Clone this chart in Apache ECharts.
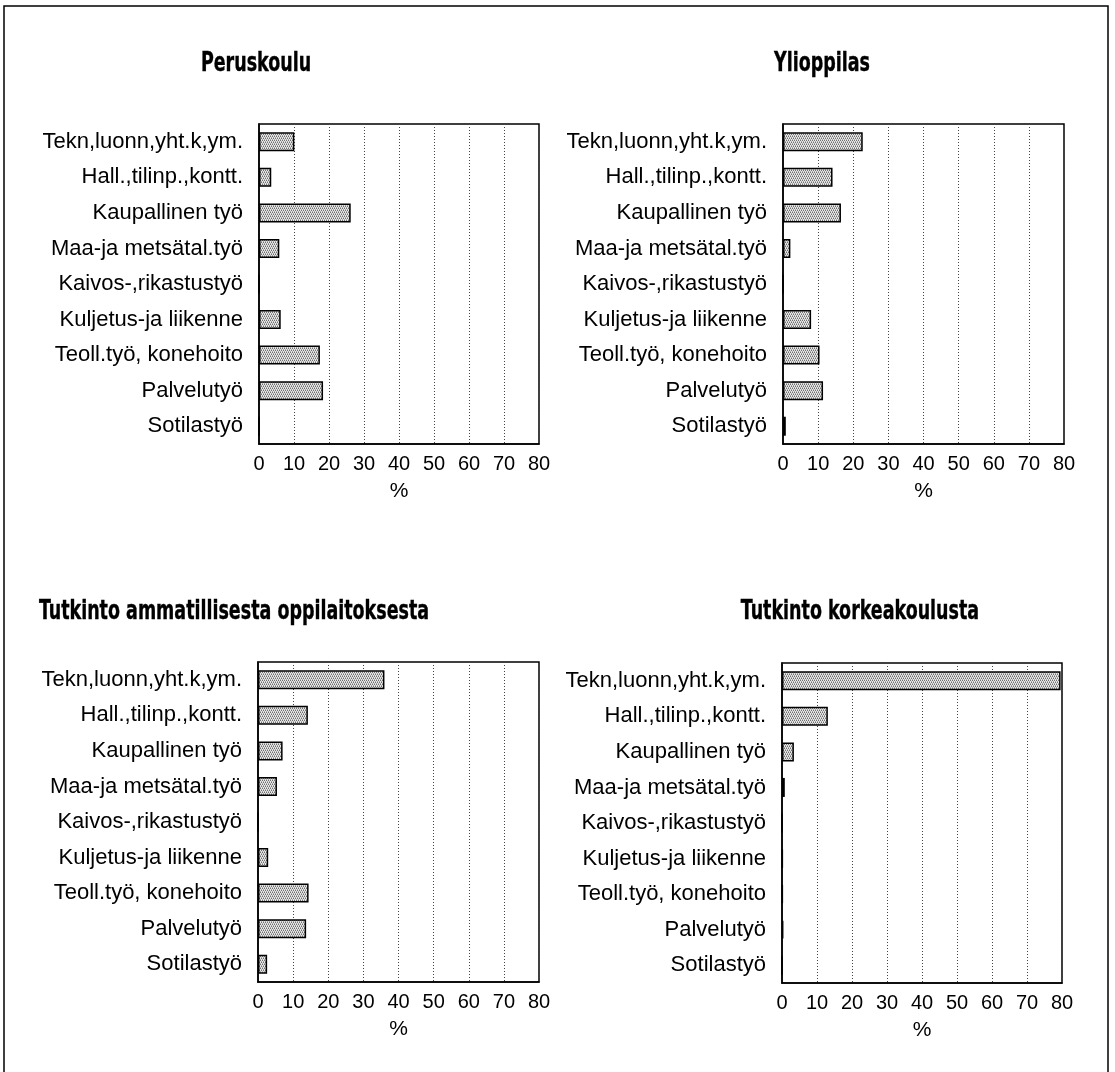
<!DOCTYPE html>
<html>
<head>
<meta charset="utf-8">
<script src="https://cdn.jsdelivr.net/npm/echarts@6/dist/echarts.min.js"></script>
<style>
html,body{margin:0;padding:0;background:#fff;}
#chart{width:1115px;height:1072px;}
</style>
</head>
<body>
<div id="chart"></div>
<script>
const categories = ['Tekn,luonn,yht.k,ym.','Hall.,tilinp.,kontt.','Kaupallinen työ','Maa-ja metsätal.työ','Kaivos-,rikastustyö','Kuljetus-ja liikenne','Teoll.työ, konehoito','Palvelutyö','Sotilastyö'];
const peruskoulu = [10.1, 3.5, 26.2, 5.8, 0, 6.2, 17.4, 18.3, 0];
const ylioppilas = [22.7, 14.1, 16.5, 2.1, 0, 8.0, 10.4, 11.4, 0.8];
const ammatillinen = [36.0, 14.2, 7.0, 5.4, 0, 2.9, 14.4, 13.7, 2.6];
const korkeakoulu = [79.6, 13.1, 3.4, 0.8, 0, 0.2, 0.2, 0.4, 0];
const panelTitles = ['Peruskoulu', 'Ylioppilas', 'Tutkinto ammatillisesta oppilaitoksesta', 'Tutkinto korkeakoulusta'];
const xMin = 0, xMax = 80, xStep = 10;
const axisName = '%';

const seriesData = [peruskoulu, ylioppilas, ammatillinen, korkeakoulu];
const grids = [
  {left: 259, top: 124, width: 280, height: 320},
  {left: 783, top: 124, width: 281, height: 320},
  {left: 258, top: 662, width: 281, height: 320},
  {left: 782, top: 663, width: 280, height: 320}
];
const titlePos = [[256, 64], [822, 64], [234, 612], [860, 612]];

// stipple pattern
const pc = document.createElement('canvas');
pc.width = 4; pc.height = 4;
const pctx = pc.getContext('2d');
pctx.fillStyle = '#e6e6e6'; pctx.fillRect(0,0,4,4);
pctx.fillStyle = '#707070';
pctx.fillRect(0,0,1,1); pctx.fillRect(2,0,1,1); pctx.fillRect(1,2,1,1); pctx.fillRect(3,2,1,1);
pctx.fillStyle = '#a8a8a8';
pctx.fillRect(1,1,1,1); pctx.fillRect(3,1,1,1); pctx.fillRect(0,3,1,1); pctx.fillRect(2,3,1,1);

const chart = echarts.init(document.getElementById('chart'), null, {renderer: 'canvas'});
const labelFont = "'Liberation Sans', Arial, sans-serif";
const titleFont = "'DejaVu Sans Condensed', 'DejaVu Sans', sans-serif";

const option = {
  backgroundColor: '#fff',
  animation: false,
  grid: grids.map(g => Object.assign({show: true, borderColor: '#000', borderWidth: 1.5, backgroundColor: 'transparent'}, g)),
  xAxis: grids.map((g, i) => ({
    type: 'value', gridIndex: i, min: xMin, max: xMax, interval: xStep,
    axisLine: {show: true, lineStyle: {color: '#000', width: 1.5}},
    axisTick: {show: false},
    axisLabel: {color: '#000', fontSize: 20, fontFamily: labelFont, margin: 10},
    splitLine: {show: true, lineStyle: {color: '#444', width: 1, type: [1, 2]}},
    name: axisName, nameLocation: 'middle', nameGap: 37,
    nameTextStyle: {color: '#000', fontSize: 21, fontFamily: labelFont}
  })),
  yAxis: grids.map((g, i) => ({
    type: 'category', gridIndex: i, data: categories, inverse: true,
    axisLine: {show: true, lineStyle: {color: '#000', width: 1.5}},
    axisTick: {show: false},
    axisLabel: {color: '#000', fontSize: 22, fontFamily: labelFont, margin: 16},
    splitLine: {show: false}
  })),
  series: seriesData.map((d, i) => ({
    type: 'bar', xAxisIndex: i, yAxisIndex: i, data: d,
    barWidth: 19,
    itemStyle: {color: {image: pc, repeat: 'repeat'}, borderColor: '#000', borderWidth: 1.5},
    silent: true
  })),
  graphic: [
    {type: 'rect', shape: {x: 4, y: 6, width: 1104, height: 1090}, style: {fill: 'none', stroke: '#000', lineWidth: 1.5}, silent: true}
  ].concat(panelTitles.map((t, i) => ({
    type: 'text', x: titlePos[i][0], y: titlePos[i][1], scaleX: 0.72,
    style: {text: t, textAlign: 'center', textVerticalAlign: 'middle', fill: '#000', stroke: '#000', lineWidth: 0.4, font: "bold 27px " + titleFont}
  })))
};
chart.setOption(option);
</script>
</body>
</html>
